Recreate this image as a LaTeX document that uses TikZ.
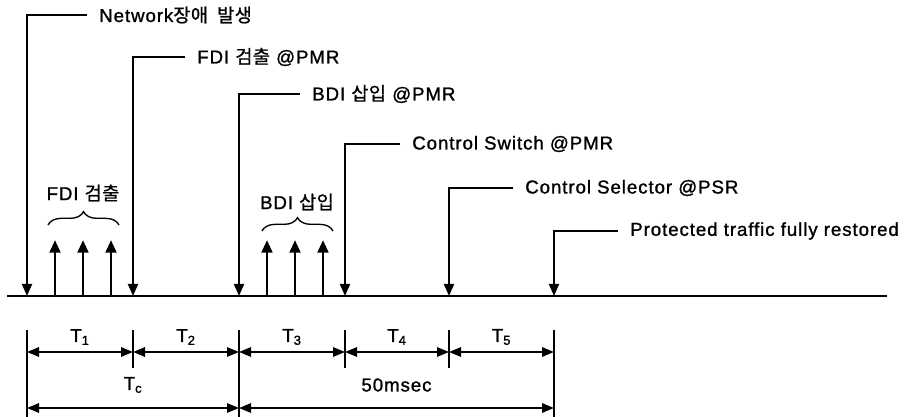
\documentclass[tikz,border=0pt]{standalone}
\usepackage{fontspec}
\setmainfont[LetterSpace=5,FakeBold=1.2]{Liberation Sans}
\newfontfamily\kor[LetterSpace=2,FakeBold=1]{Noto Sans CJK KR}
\usetikzlibrary{arrows.meta,decorations.pathreplacing,calc}
\tikzset{
  evt/.style={line width=1.4pt, -{Triangle[width=7.5pt,length=9pt]}},
  pulse/.style={line width=2.1pt, -{Triangle[width=8pt,length=9.5pt]}},
  axis/.style={line width=1pt},
  tickln/.style={line width=0.8pt},
  dim/.style={line width=1.5pt,
              {Triangle[width=7pt,length=9pt]}-{Triangle[width=7pt,length=9pt]}},
  lbl/.style={font=\fontsize{14}{16}\selectfont, inner ysep=0pt,
              inner xsep=9pt, anchor=west},
  glbl/.style={font=\fontsize{14}{16}\selectfont, inner sep=0pt},
  dlbl/.style={font=\fontsize{14}{16}\selectfont, inner sep=0pt},
  grp/.style={decorate, decoration={brace, amplitude=10pt}, line width=1pt},
}
\newcommand{\sub}[1]{\textsubscript{#1}}

\begin{document}
\begin{tikzpicture}[x=0.75pt, y=-0.75pt]
\useasboundingbox (0,0) rectangle (908,417);

%% ---- time axis and event points
\coordinate (a0) at (7,296);
\coordinate (a1) at (887,296);
\draw[axis] (a0) -- (a1);

\coordinate (t0) at (27,296);
\coordinate (t1) at (133,296);
\coordinate (t2) at (239,296);
\coordinate (t3) at (345,296);
\coordinate (t4) at (449,296);
\coordinate (t5) at (554,296);

%% ---- event labels, stepped down to the right
\node[lbl] (ev0) at (87,15)  {Network{\kor 장애\ \ 발생}};
\node[lbl] (ev1) at (185,57) {FDI {\kor 검출} @PMR};
\node[lbl] (ev2) at (300,94) {BDI {\kor 삽입} @PMR};
\node[lbl] (ev3) at (400,144) {Control Switch @PMR};
\node[lbl] (ev4) at (513,188) {Control Selector @PSR};
\node[lbl] (ev5) at (618,231) {Protected traffic fully restored};

\foreach \i in {0,...,5}
  \draw[evt] (ev\i.west) -| (t\i);

%% ---- FDI / BDI pulses
\foreach \x in {55,83,111}
  \draw[pulse] (\x,296) -- (\x,240);
\foreach \x in {267,295,323}
  \draw[pulse] (\x,296) -- (\x,240);

\coordinate (fL) at (48,225);
\coordinate (fR) at (119,225);
\draw[grp] (fL) -- (fR);
\node[glbl] (fdi) at (83,193) {FDI {\kor 검출}};

\coordinate (bL) at (262,231);
\coordinate (bR) at (333,231);
\draw[grp] (bL) -- (bR);
\node[glbl] (bdi) at (297,202) {BDI {\kor 삽입}};

%% ---- interval ticks
\foreach \i in {0,2,5}
  \draw[tickln] ($(t\i)+(0,34)$) -- ($(t\i)+(0,121)$);
\foreach \i in {1,3,4}
  \draw[tickln] ($(t\i)+(0,34)$) -- ($(t\i)+(0,72)$);

%% ---- intervals T1..T5
\foreach \i/\j/\n in {0/1/1, 1/2/2, 2/3/3, 3/4/4, 4/5/5} {
  \draw[dim] ($(t\i)+(0,56)$) -- ($(t\j)+(0,56)$);
  \node[dlbl] (T\n) at ($($(t\i)!0.5!(t\j)$)+(0,41)$) {T\sub{\n}};
}

%% ---- totals
\draw[dim] ($(t0)+(0,112)$) -- ($(t2)+(0,112)$);
\node[dlbl] (Tc) at ($($(t0)!0.5!(t2)$)+(0,89)$) {T\sub{c}};
\draw[dim] ($(t2)+(0,112)$) -- ($(t5)+(0,112)$);
\node[dlbl] (lim) at ($($(t2)!0.5!(t5)$)+(0,89)$) {50msec};

\end{tikzpicture}
\end{document}
